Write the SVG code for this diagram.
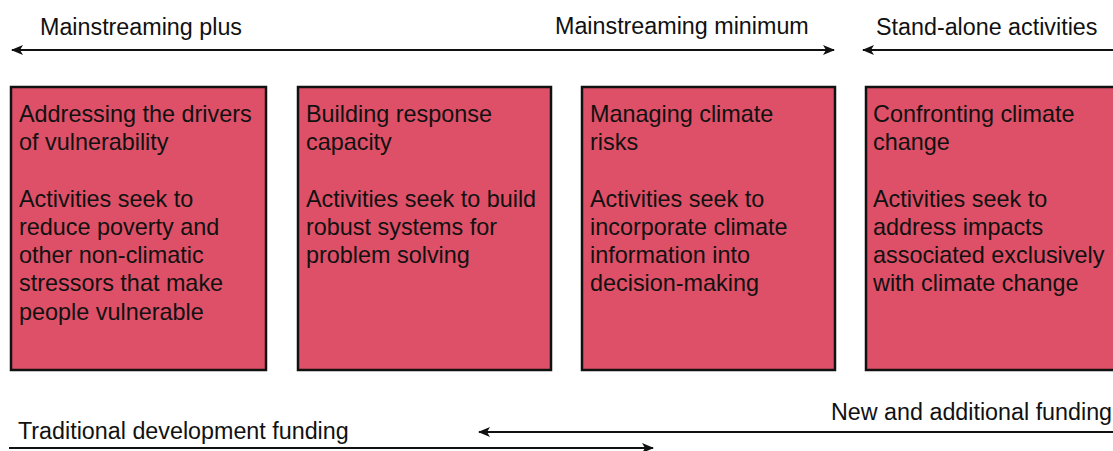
<svg xmlns="http://www.w3.org/2000/svg" width="1113" height="451" viewBox="0 0 1113 451">
  <style>
    .box { fill: #de5067; stroke: #111; stroke-width: 2.5; }
    .txt { font-family: "Liberation Sans", Arial, sans-serif; font-size: 23.4px; fill: #111; }
    .hdr { font-family: "Liberation Sans", Arial, sans-serif; font-size: 23.3px; fill: #111; }
    .arrow { stroke: #111; stroke-width: 2.2; fill: none; }
  </style>
  <defs>
    <marker id="head" viewBox="0 0 12 10" refX="11" refY="5" markerWidth="12" markerHeight="10" markerUnits="userSpaceOnUse" orient="auto-start-reverse">
      <path d="M0,0 L12,5 L0,10 L3,5 Z" fill="#111"/>
    </marker>
  </defs>
  <rect width="1113" height="451" fill="#ffffff"/>

  <!-- range labels -->
  <g id="labels">
    <text class="hdr" x="40" y="35">Mainstreaming plus</text>
    <text class="hdr" x="555" y="34">Mainstreaming minimum</text>
    <text class="hdr" x="876" y="35">Stand-alone activities</text>
    <text class="hdr" x="831" y="420">New and additional funding</text>
    <text class="hdr" x="18" y="439">Traditional development funding</text>
  </g>

  <!-- range arrows -->
  <g id="connectors">
    <line class="arrow" x1="12" y1="50" x2="834" y2="50" marker-start="url(#head)" marker-end="url(#head)"/>
    <line class="arrow" x1="863" y1="50" x2="1113" y2="50" marker-start="url(#head)"/>
    <line class="arrow" x1="1113" y1="432" x2="479" y2="432" marker-end="url(#head)"/>
    <line class="arrow" x1="9" y1="448" x2="653" y2="448" marker-end="url(#head)"/>
  </g>

  <g id="node-drivers">
    <rect class="box" x="11" y="87" width="255" height="283"/>
    <text class="txt">
      <tspan x="19" y="122">Addressing the drivers</tspan>
      <tspan x="19" y="150">of vulnerability</tspan>
      <tspan x="19" y="207">Activities seek to</tspan>
      <tspan x="19" y="235">reduce poverty and</tspan>
      <tspan x="19" y="263">other non-climatic</tspan>
      <tspan x="19" y="291">stressors that make</tspan>
      <tspan x="19" y="320">people vulnerable</tspan>
    </text>
  </g>

  <g id="node-capacity">
    <rect class="box" x="298" y="87" width="253" height="283"/>
    <text class="txt">
      <tspan x="306" y="122">Building response</tspan>
      <tspan x="306" y="150">capacity</tspan>
      <tspan x="306" y="207">Activities seek to build</tspan>
      <tspan x="306" y="235">robust systems for</tspan>
      <tspan x="306" y="263">problem solving</tspan>
    </text>
  </g>

  <g id="node-risks">
    <rect class="box" x="582" y="87" width="253" height="283"/>
    <text class="txt">
      <tspan x="590" y="122">Managing climate</tspan>
      <tspan x="590" y="150">risks</tspan>
      <tspan x="590" y="207">Activities seek to</tspan>
      <tspan x="590" y="235">incorporate climate</tspan>
      <tspan x="590" y="263">information into</tspan>
      <tspan x="590" y="291">decision-making</tspan>
    </text>
  </g>

  <g id="node-confronting">
    <rect class="box" x="866" y="87" width="256" height="283"/>
    <text class="txt">
      <tspan x="873" y="122">Confronting climate</tspan>
      <tspan x="873" y="150">change</tspan>
      <tspan x="873" y="207">Activities seek to</tspan>
      <tspan x="873" y="235">address impacts</tspan>
      <tspan x="873" y="263">associated exclusively</tspan>
      <tspan x="873" y="291">with climate change</tspan>
    </text>
  </g>
</svg>
